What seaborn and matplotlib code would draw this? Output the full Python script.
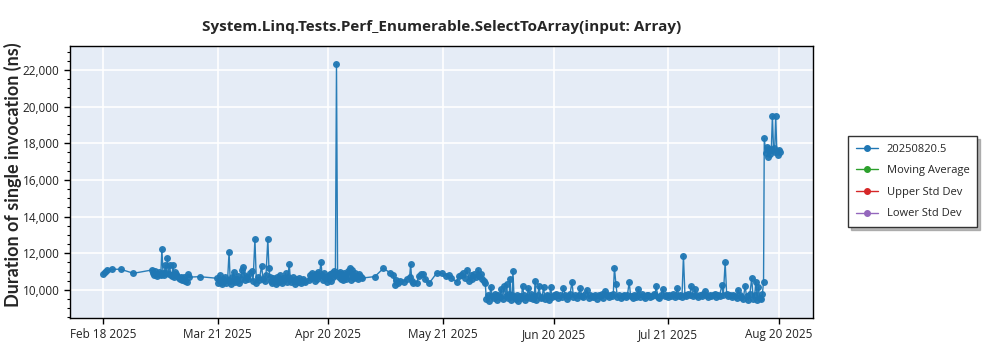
import matplotlib
matplotlib.use("Agg")
import matplotlib.pyplot as plt
import matplotlib.dates as mdates
from matplotlib.ticker import FuncFormatter, MultipleLocator
from matplotlib.lines import Line2D
import seaborn as sns
import pandas as pd

# ---------------- data ----------------
title = "System.Linq.Tests.Perf_Enumerable.SelectToArray(input: Array)"
y_label = "Duration of single invocation (ns)"
series_name = "20250820.5"
legend_names = ["20250820.5", "Moving Average", "Upper Std Dev", "Lower Std Dev"]
legend_colors = ["#1f77b4", "#2ca02c", "#d62728", "#9467bd"]
start_date = "2025-02-18"
tick_dates = ["2025-02-18", "2025-03-21", "2025-04-20", "2025-05-21",
              "2025-06-20", "2025-07-21", "2025-08-20"]

# day offsets from start_date
days_feb = [0.0, 0.4, 0.9, 2.3, 4.7, 8.2]
vals_feb = [10850, 10980, 11070, 11130, 11130, 10910]

days_mar1 = [13.2, 13.5, 13.8, 14.1, 14.4, 14.7, 15.0, 15.3, 15.6, 15.9, 16.2, 16.5, 16.8, 17.1,
             17.4, 17.7, 18.0, 18.3, 18.6, 18.9, 19.2, 19.5, 19.8, 20.1, 20.4, 20.7, 21.0, 21.3,
             21.6, 21.9, 22.2, 22.6, 22.9, 23.2, 26.2]
vals_mar1 = [11090, 10950, 10800, 11050, 10880, 10780, 11000, 10850, 10820, 12230, 10900, 10820,
             11360, 10900, 11730, 10850, 11360, 10800, 10750, 11360, 10700, 11000, 10850, 10780,
             10650, 10620, 10700, 10550, 10600, 10720, 10500, 10420, 10860, 10700, 10725]

days_mar2 = [30.7, 31.0, 31.3, 31.6, 31.9, 32.2, 32.5, 32.8, 33.1, 33.4, 33.7, 34.1, 34.4, 34.7,
             35.0, 35.3, 35.6, 35.9, 36.2, 36.5, 36.8, 37.2, 37.6, 37.9, 38.2, 38.5, 38.9, 39.3,
             39.7, 40.2, 40.6, 41.1, 41.5, 41.9, 42.3, 42.9, 43.3, 43.7, 44.1, 44.6, 44.9, 45.2]
vals_mar2 = [10640, 10400, 10550, 10800, 10450, 10350, 10600, 10500, 10700, 10400, 10550, 12090,
             10500, 10350, 10700, 10980, 10450, 10600, 10500, 10750, 10400, 10600, 11100, 11270,
             10820, 10550, 10700, 10600, 10900, 11050, 10500, 12780, 10400, 10700, 10550, 11320,
             10600, 10500, 10800, 12780, 11200, 10700]

days_apr1 = [45.5, 45.8, 46.1, 46.4, 46.7, 47.0, 47.3, 47.6, 47.9, 48.2, 48.5, 48.8, 49.1, 49.4,
             49.7, 50.0, 50.4, 50.7, 51.0, 51.3, 51.6, 51.9, 52.2, 52.5, 52.8, 53.1, 53.4, 53.7,
             54.0, 54.4, 54.7]
vals_apr1 = [10500, 10400, 10650, 10550, 10350, 10700, 10450, 10600, 10800, 10500, 10400, 10650,
             10550, 10900, 10450, 10700, 11400, 10600, 10450, 10700, 10500, 10350, 10600, 10550,
             10450, 10650, 10500, 10400, 10600, 10500, 10450]

days_apr2 = [55.8, 56.1, 56.4, 56.7, 57.0, 57.3, 57.6, 57.9, 58.2, 58.5, 59.0, 59.3, 59.6, 59.9,
             60.2, 60.5, 60.8, 61.1, 61.4, 61.7, 62.0, 62.3, 62.6, 62.9, 63.2, 63.5, 63.8, 64.1,
             64.4, 64.7, 65.0, 65.3, 65.6, 65.9, 66.2, 66.5, 66.8, 67.1, 67.4, 67.7, 68.0, 68.3,
             68.6, 68.9, 69.2, 69.5, 69.8, 70.2]
vals_apr2 = [10550, 10800, 10650, 10950, 10700, 10500, 10850, 10600, 11000, 10750, 11510, 10800,
             10550, 10900, 10650, 10450, 10750, 10600, 10850, 10500, 10950, 10700, 11050, 10800,
             22320, 10900, 10700, 11000, 10600, 10850, 10550, 10950, 10700, 10600, 11050, 10750,
             11220, 10550, 11100, 10800, 10650, 10900, 10700, 10600, 10850, 10750, 10700, 10650]

days_may = [73.6, 75.9, 77.6, 78.6, 79.0, 79.4, 79.8, 80.5, 81.5, 82.2, 83.0, 83.3, 83.6, 84.0,
            84.9, 85.5, 86.1, 86.6, 87.3, 88.3, 90.3, 91.7, 93.0, 93.6, 94.3, 95.8, 96.3, 97.0,
            97.5, 98.0, 98.5, 99.2, 99.6, 100.0, 100.5, 101.0, 101.6, 101.9, 102.3, 102.7, 103.1,
            103.5]
vals_may = [10730, 11180, 10950, 10820, 10270, 10550, 10400, 10500, 10450, 10600, 10700, 11400,
            10500, 10390, 10365, 10750, 10850, 10850, 10600, 10365, 10910, 10910, 10780, 10820,
            10640, 10450, 10780, 10800, 10900, 10650, 11090, 10500, 10800, 10600, 10850, 10700,
            11090, 10750, 10850, 10600, 10500, 10365]

days_jun = [103.8, 104.2, 104.6, 105.0, 105.4, 105.8, 106.2, 106.6, 107.0, 107.4, 107.8, 108.2,
            108.6, 109.0, 109.3, 109.6, 110.0, 110.2, 110.5, 110.8, 111.0, 111.3, 111.7, 112.1,
            112.5, 112.9, 113.3, 113.6, 114.0, 114.4, 114.8, 115.2, 115.6, 116.0, 116.4, 116.8,
            117.0, 117.3, 117.7, 118.1, 118.5, 118.9, 119.3, 119.7, 120.1, 120.5, 120.9, 121.2,
            121.6, 122.0]
vals_jun = [9500, 9750, 9400, 10180, 9650, 9550, 9800, 9450, 9700, 9600, 10050, 9500, 10200,
            9650, 10310, 9550, 9800, 10580, 9450, 9700, 11050, 9600, 9500, 9750, 9400, 9650, 9550,
            10220, 9700, 9450, 9600, 10100, 9550, 9800, 9500, 9650, 10490, 9450, 9700, 10200,
            9550, 9600, 10150, 9500, 9750, 9650, 9450, 10165, 9600, 9700]

days_jul = [122.4, 122.8, 123.3, 123.7, 124.2, 124.7, 125.1, 125.6, 126.0, 126.5, 127.0, 127.4,
            127.9, 128.3, 128.8, 129.2, 129.7, 130.1, 130.6, 131.0, 131.5, 131.9, 132.4, 132.8,
            133.3, 133.7, 134.2, 134.6, 135.1, 135.5, 136.0, 136.4, 136.9, 137.3, 137.8, 138.2,
            138.5, 138.9, 139.3, 139.8, 140.2, 140.7, 141.1, 141.6, 142.0, 142.5, 142.9, 143.4,
            143.8, 144.3, 144.7, 145.0, 145.5, 145.9, 146.4, 146.8, 147.3, 147.7, 148.2, 148.6,
            149.1, 149.5, 149.8, 150.3, 150.7, 151.2, 151.6, 152.1, 152.5, 153.0]
vals_jul = [9650, 9800, 9550, 9700, 9600, 10125, 9750, 9500, 9650, 9800, 10450, 9600, 9700, 9550,
            9750, 10100, 9650, 9600, 9800, 10000, 9550, 9700, 9650, 9600, 9750, 9500, 9700, 9650,
            9800, 9550, 9950, 9700, 9600, 9750, 9650, 9800, 11220, 10330, 9600, 9700, 9550, 9650,
            9750, 9600, 9700, 10420, 9650, 9550, 9750, 9600, 9700, 10040, 9600, 9800, 9650, 9550,
            9700, 9750, 9600, 9650, 9800, 9700, 10220, 9600, 9550, 9750, 10050, 9650, 9700, 9600]

days_aug = [153.4, 153.9, 154.3, 154.8, 155.2, 155.5, 156.0, 156.4, 156.8, 157.2, 157.6, 158.0,
            158.5, 158.9, 159.3, 159.8, 160.3, 160.7, 161.2, 161.6, 162.1, 162.5, 163.0, 163.4,
            163.9, 164.3, 164.8, 165.2, 165.7, 166.1, 166.6, 167.0, 167.6, 168.0, 168.5, 168.9,
            169.4, 169.8, 170.3, 170.7, 171.2, 171.6, 172.0, 172.5, 172.9, 173.4, 173.9, 174.3,
            174.8, 175.2, 175.7, 176.1, 176.5, 176.8, 177.2, 177.5, 177.9, 178.3, 178.6, 178.9]
vals_aug = [9700, 9650, 9800, 9600, 9750, 10100, 9650, 9700, 9600, 11870, 9750, 9650, 9800, 9700,
            10230, 9650, 10040, 9700, 9600, 9750, 9650, 9800, 9950, 9700, 9600, 9750, 9650, 9700,
            9800, 9600, 9750, 9650, 10270, 9700, 11510, 9800, 9650, 9700, 9600, 9750, 9650, 9550,
            10000, 9700, 9600, 9500, 10230, 9650, 9450, 9800, 10640, 9500, 9700, 10450, 9450,
            10165, 9550, 9500, 9800, 10450]

days_end = [179.1, 179.5, 179.8, 180.1, 180.4, 180.7, 181.0, 181.3, 181.6, 181.9, 182.2, 182.5,
            182.8, 183.1, 183.4]
vals_end = [18270, 17480, 17800, 17270, 17700, 17400, 17650, 19480, 17750, 17500, 19480, 17600,
            17350, 17650, 17540]

y_lim = (8470, 23310)
x_pad_days = (-9.0, 192.3)

# ---------------- build frame ----------------
all_days = (days_feb + days_mar1 + days_mar2 + days_apr1 + days_apr2 + days_may +
            days_jun + days_jul + days_aug + days_end)
all_vals = (vals_feb + vals_mar1 + vals_mar2 + vals_apr1 + vals_apr2 + vals_may +
            vals_jun + vals_jul + vals_aug + vals_end)
base = pd.Timestamp(start_date)
df = pd.DataFrame({
    "date": base + pd.to_timedelta(all_days, unit="D"),
    "value": all_vals,
})

# ---------------- plot ----------------
sns.set_style("white")
plt.rcParams["font.family"] = ["Open Sans", "DejaVu Sans"]

fig = plt.figure(figsize=(10, 3.5), dpi=100)
ax = fig.add_axes([0.070, 0.0914, 0.743, 0.7772])
ax.set_facecolor("#E5ECF6")

sns.lineplot(data=df, x="date", y="value", ax=ax, color=legend_colors[0],
             marker="o", markersize=5, markeredgewidth=0, linewidth=1.0,
             estimator=None, sort=True, alpha=0.95)

ax.set_ylim(*y_lim)
ax.set_xlim(base + pd.Timedelta(days=x_pad_days[0]), base + pd.Timedelta(days=x_pad_days[1]))

ax.set_xticks(pd.to_datetime(tick_dates))
ax.xaxis.set_major_formatter(mdates.DateFormatter("%b %d %Y"))
ax.yaxis.set_major_locator(MultipleLocator(2000))
ax.yaxis.set_minor_locator(MultipleLocator(500))
ax.yaxis.set_major_formatter(FuncFormatter(lambda v, p: f"{v:,.0f}"))

ax.grid(True, which="major", color="white", linewidth=1.2)
ax.set_axisbelow(True)
for s in ax.spines.values():
    s.set_visible(True)
    s.set_color("black")
    s.set_linewidth(1.0)

ax.tick_params(axis="both", which="major", direction="out", length=4, width=1,
               color="black", labelsize=8.5, labelcolor="#222222", bottom=True, left=True)
ax.tick_params(axis="y", which="minor", direction="out", length=2.5, width=0.8,
               color="black", left=True)

ax.set_xlabel("")
ax.set_ylabel(y_label, fontsize=13, fontweight="bold", fontfamily="Lato")
ax.yaxis.set_label_coords(-0.064, 0.526)
ax.set_title(title, fontsize=11, fontweight="bold", pad=11)

handles = [Line2D([0], [0], color=c, marker="o", markersize=4, linewidth=1.0)
           for c in legend_colors]
leg = ax.legend(handles, legend_names, loc="upper left", bbox_to_anchor=(1.047, 0.669),
                frameon=True, fancybox=False, fontsize=8,
                shadow={"color": "0.55", "alpha": 0.6},
                handlelength=2.0, borderpad=0.7, labelspacing=0.95, borderaxespad=0)
leg.get_frame().set_edgecolor("#333333")
leg.get_frame().set_linewidth(1.0)

fig.savefig("out.png", dpi=100)
